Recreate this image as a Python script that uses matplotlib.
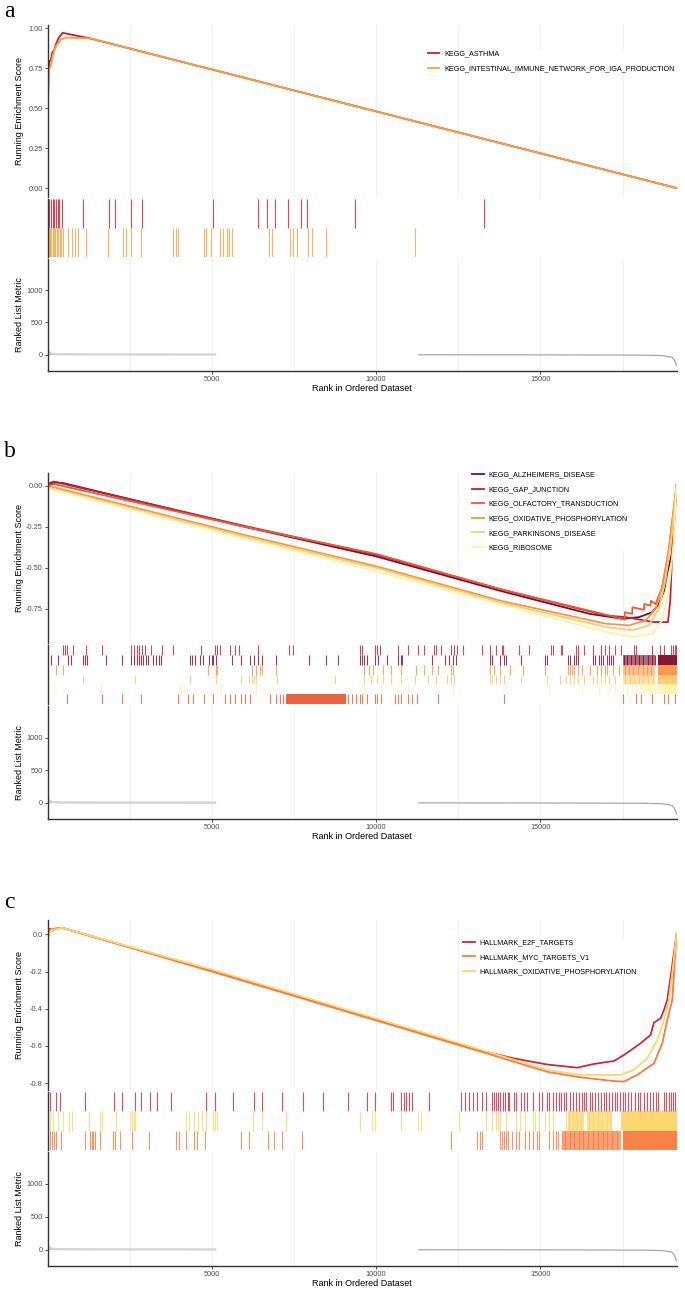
import numpy as np
import matplotlib.pyplot as plt
from matplotlib.lines import Line2D

plt.rcParams['font.family'] = ['Liberation Sans', 'DejaVu Sans']
plt.rcParams['axes.unicode_minus'] = False

# ---------------- data ----------------
# ranked list metric (same ranking for every panel)
metric_left_rank = [1, 20, 60, 150, 400, 1500, 5100]
metric_left_val = [120, 60, 25, 12, 6, 3, 2]
metric_right_rank = [11300, 15000, 18000, 18700, 19000, 19080, 19140]
metric_right_val = [-2, -4, -8, -15, -40, -90, -170]

# panel a
a_names = ['KEGG_ASTHMA', 'KEGG_INTESTINAL_IMMUNE_NETWORK_FOR_IGA_PRODUCTION']
a_colors = ['#D0182F', '#F9A03E']
asthma_rank = [1, 10, 30, 60, 100, 150, 200, 260, 320, 380, 460, 1300, 19140]
asthma_es = [0.0, 0.45, 0.74, 0.79, 0.80, 0.85, 0.86, 0.90, 0.93, 0.95, 0.97, 0.935, 0.0]
iga_rank = [1, 15, 40, 100, 150, 220, 300, 420, 600, 1300, 19140]
iga_es = [0.0, 0.55, 0.74, 0.76, 0.82, 0.87, 0.90, 0.93, 0.94, 0.935, 0.0]
asthma_hits = [6, 57, 108, 159, 210, 260, 311, 362, 443, 1091, 1873, 2056, 2534, 2869,
               5031, 6412, 6686, 6930, 7326, 7722, 7905, 9366, 13296]
iga_hits = [6, 40, 80, 120, 160, 200, 240, 290, 330, 380, 420, 470, 634, 737, 838, 920,
            1173, 1852, 2309, 2391, 2534, 2857, 3832, 3905, 3985, 4767, 4828, 4980, 5255,
            5355, 5458, 5538, 5620, 6726, 6829, 7366, 7469, 7591, 7914, 8047, 8483, 11194]

# panel b
b_names = ['KEGG_ALZHEIMERS_DISEASE', 'KEGG_GAP_JUNCTION', 'KEGG_OLFACTORY_TRANSDUCTION',
           'KEGG_OXIDATIVE_PHOSPHORYLATION', 'KEGG_PARKINSONS_DISEASE', 'KEGG_RIBOSOME']
b_colors = ['#7F0A2A', '#C41E3A', '#EC5A35', '#FA9441', '#FEC96A', '#FFF2A6']
alz_rank = [1, 60, 150, 300, 500, 6000, 10000, 13782, 16500, 17500, 18000, 18400, 18600,
            18760, 18860, 19013, 19080, 19140]
alz_es = [0.0, 0.01, 0.015, 0.02, 0.015, -0.25, -0.43, -0.64, -0.78, -0.81, -0.80, -0.77,
          -0.72, -0.64, -0.53, -0.40, -0.2, 0.0]
gap_rank = [1, 100, 200, 400, 6000, 10000, 13782, 17000, 17600, 18450, 18880, 18950, 19020, 19140]
gap_es = [0.0, 0.02, 0.025, 0.015, -0.245, -0.42, -0.63, -0.79, -0.80, -0.83, -0.83, -0.70,
          -0.35, 0.0]
olf_rank = [1, 200, 6000, 10000, 13782, 17300, 17560, 17570, 17790, 17800, 18150, 18160,
            18350, 18360, 18500, 18700, 18900, 19140]
olf_es = [0.0, 0.01, -0.25, -0.415, -0.63, -0.80, -0.815, -0.77, -0.78, -0.74, -0.755,
          -0.72, -0.73, -0.70, -0.72, -0.62, -0.40, 0.0]
oxb_rank = [1, 6000, 10000, 13782, 17000, 17700, 18200, 18500, 18700, 18900, 19050, 19140]
oxb_es = [0.0, -0.30, -0.49, -0.70, -0.84, -0.85, -0.82, -0.75, -0.62, -0.40, -0.15, 0.0]
park_rank = [1, 6000, 10000, 13782, 17000, 17800, 18300, 18600, 18800, 19000, 19140]
park_es = [-0.01, -0.31, -0.50, -0.71, -0.86, -0.88, -0.85, -0.75, -0.58, -0.30, 0.0]
ribo_rank = [1, 6000, 10000, 13782, 17000, 17800, 18400, 18700, 18900, 19050, 19140]
ribo_es = [-0.015, -0.32, -0.52, -0.72, -0.89, -0.92, -0.90, -0.82, -0.65, -0.35, 0.0]

gap_hits = [459, 521, 584, 771, 1171, 1646, 2546, 2621, 2709, 2796, 2871, 2959, 3146, 3496,
            3834, 4671, 5084, 5171, 5246, 5546, 5709, 5834, 6396, 7334, 7484, 9521, 9584,
            9959, 10021, 10121, 10671, 10959, 11271, 11459, 11746, 11834, 11959, 12271,
            12371, 12459, 12646, 13209, 13459, 13646, 13834, 13871, 14334, 14646, 15334,
            15396, 15621, 15671, 16084, 16146, 16334, 16584, 16834, 16959, 17084, 17271,
            17459, 17834, 17896, 18396, 18646, 18771, 18959, 19021, 19084, 19120]
alz_hits = [121, 334, 621, 709, 1084, 1146, 1209, 1771, 2271, 2546, 2621, 2709, 2771, 2834,
            2896, 2996, 3046, 3209, 3309, 3396, 3459, 4334, 4396, 4496, 4646, 4746, 4921,
            4996, 5046, 5121, 5621, 5896, 6171, 6271, 6396, 6521, 6959, 7959, 8484, 8834,
            9496, 9584, 9646, 9709, 9959, 10046, 10334, 10671, 10746, 10796, 11709, 12084,
            12209, 12334, 12421, 13459, 13521, 13771, 13896, 13959, 14396, 15146, 15209,
            15834, 15896, 16021, 16084, 16146, 16584, 16646, 16771, 16834, 16896, 17021,
            17084, 17146, 17209, 17530, 17640, 17760, 17890, 18010, 18130, 18260, 18390,
            18480]
alz_spans = [(17500, 18500, 0.6), (18580, 19140, 0.95)]
oxb_hits = [271, 484, 4896, 5121, 5171, 6209, 6334, 6459, 6521, 6959, 9646, 9771, 9896,
            10209, 10459, 10771, 11209, 11459, 11709, 11896, 12271, 12334, 13459, 13584,
            13771, 14084, 14459, 15146, 15834, 15896, 15959, 16021, 16146, 16271, 16521,
            16709, 16834, 16959, 17021, 17209, 17396, 17560, 17700, 17830, 17960, 18110,
            18240, 18370]
oxb_spans = [(17500, 18500, 0.55), (18580, 19140, 0.95)]
park_hits = [1084, 2671, 4334, 5121, 5896, 6146, 6209, 6271, 6334, 6996, 8746, 9646, 9834,
             10021, 10209, 10459, 10771, 11171, 11584, 11834, 12146, 12271, 12371, 13459,
             13521, 13646, 13771, 13896, 14396, 15209, 15584, 15771, 15896, 16021, 16146,
             16334, 16584, 16709, 16834, 16959, 17084, 17271, 17580, 17720, 17850, 17990,
             18120, 18280, 18410]
park_spans = [(17500, 18500, 0.55), (18580, 19140, 0.95)]
ribo_hits = [209, 1621, 4021, 4146, 5146, 5271, 6334, 9646, 10146, 10521, 10959, 12334,
             15271, 16271, 16771, 17084, 17271, 17521, 17646, 17771, 17896, 18021]
ribo_spans = [(18080, 18770, 0.6), (18770, 19140, 0.95)]
olf_hits = [584, 1646, 2271, 2859, 3984, 4271, 4421, 4771, 5021, 5396, 5546, 5709, 5896,
            6021, 6171, 6771, 6959, 7084, 7180, 9146, 9271, 9396, 9496, 9584, 9709, 9959,
            10021, 10146, 10584, 10671, 10771, 10959, 11084, 11246, 11871, 13896, 17521,
            17896, 18046, 18396, 18746, 18896, 19084]
olf_spans = [(7270, 9090, 0.95)]

# panel c
c_names = ['HALLMARK_E2F_TARGETS', 'HALLMARK_MYC_TARGETS_V1',
           'HALLMARK_OXIDATIVE_PHOSPHORYLATION']
c_colors = ['#CC2640', '#FA7A3E', '#FED667']
e2f_rank = [1, 75, 150, 250, 440, 5000, 13174, 14189, 15206, 16120, 16627, 17236, 17540,
            18048, 18352, 18453, 18657, 18758, 18859, 19000, 19140]
e2f_es = [0.0, 0.03, 0.02, 0.03, 0.035, -0.195, -0.625, -0.667, -0.70, -0.717, -0.697,
          -0.681, -0.649, -0.586, -0.541, -0.475, -0.452, -0.407, -0.353, -0.18, 0.0]
myc_rank = [1, 40, 100, 200, 440, 5000, 13174, 15206, 16220, 17236, 17540, 17946, 18453,
            18707, 18859, 19012, 19140]
myc_es = [0.0, 0.02, 0.025, 0.03, 0.035, -0.20, -0.63, -0.739, -0.769, -0.789, -0.792,
          -0.756, -0.694, -0.586, -0.461, -0.353, 0.0]
oxc_rank = [1, 40, 100, 200, 440, 5000, 13174, 15206, 16220, 17438, 17844, 18251, 18556,
            18758, 18910, 19050, 19140]
oxc_es = [0.0, -0.01, 0.02, 0.025, 0.035, -0.19, -0.62, -0.729, -0.756, -0.756, -0.729,
          -0.667, -0.568, -0.461, -0.353, -0.15, 0.0]
e2f_hits = [84, 271, 371, 1146, 2021, 2271, 2671, 2834, 3121, 3334, 3746, 4834, 5084, 5646,
            6271, 6521, 7146, 7771, 8371, 9146, 9709, 9959, 10459, 10521, 10746, 10834,
            10921, 10996, 11084, 11621, 12584, 12709, 12834, 12959, 13084, 13209, 13334,
            13520, 13590, 13650, 13710, 13770, 13870, 13920, 14000, 14050, 14210, 14270,
            14400, 14500, 14580, 14770, 14960, 15050, 15210, 15270, 15370, 15460, 15550,
            15620, 15710, 15770, 15900, 16000, 16080, 16170, 16270, 16330, 16400, 16500,
            16580, 16670, 16750, 16830, 16920, 17000, 17080, 17170, 17270, 17330, 17420,
            17520, 17580, 17670, 17770, 17870, 17960, 18040, 18140, 18240, 18330, 18420,
            18520, 18580, 18770, 18830, 18900, 18960, 19020, 19080]
e2f_spans = []
oxc_hits = [84, 171, 334, 459, 646, 746, 1271, 1584, 1646, 2084, 2521, 2584, 2621, 2671,
            4209, 4296, 4459, 4584, 4709, 4834, 5021, 5084, 5171, 6246, 6521, 7246, 9521,
            9871, 9959, 10746, 11271, 11371, 12521, 13334, 13521, 13646, 13709, 13771,
            13959, 14271, 14371, 14521, 14771, 14834, 14959, 15146, 15271, 15396, 15771,
            15880, 15990, 16120, 16240, 16480, 16610, 16750, 16880, 17010, 17130]
oxc_spans = [(15830, 16320, 0.75), (16420, 17190, 0.75), (17440, 19140, 0.95)]
myc_hits = [84, 146, 209, 271, 421, 1146, 1296, 1346, 1396, 1459, 1584, 1996, 2046, 2209,
            2584, 3084, 3896, 3996, 4209, 4459, 4546, 4796, 5896, 6146, 6709, 6896, 7121,
            7746, 12271, 13084, 13146, 13209, 13771, 13834, 13896, 13959, 14021, 14146,
            14271, 14334, 14521, 14646, 14771, 14896, 14959, 15271, 15396, 15459, 15521,
            15646, 15760, 15890, 16030, 16170, 16300, 16450, 16600, 16740, 16890, 17040,
            17190, 17330]
myc_spans = [(15700, 17450, 0.7), (17520, 19140, 0.95)]

# ---------------- layout ----------------
W, H = 685, 1290
L, R = 47.5, 676.5
XMAX = 19140

fig = plt.figure(figsize=(W / 100, H / 100), dpi=100)


def box(top, bottom):
    return [L / W, 1 - bottom / H, (R - L) / W, (bottom - top) / H]


def style_left(ax):
    for s in ['top', 'right', 'bottom']:
        ax.spines[s].set_visible(False)
    ax.spines['left'].set_color('#333333')
    ax.spines['left'].set_linewidth(1.0)
    ax.tick_params(axis='y', length=2.2, width=0.6, color='#333333', pad=1.2,
                   labelsize=5.3, labelcolor='#4D4D4D')
    ax.set_xlim(0, XMAX)


def vgrid(ax):
    for x in range(2500, 19000, 2500):
        ax.axvline(x, color='#EBEBEB', lw=0.5, zorder=0)


def draw_panel(letter, letter_base, top, es_bot, rug_bot, rank_bot, names, colors,
               curves, rows, es_lim, es_ticks, es_labels, leg_x, leg_top):
    fig.text(4 / W, 1 - letter_base / H, letter, family='Liberation Serif', fontsize=17,
             va='baseline', ha='left')

    es_ax = fig.add_axes(box(top, es_bot))
    style_left(es_ax)
    es_ax.set_xticks([])
    vgrid(es_ax)
    for (rk, es), c in zip(curves, colors):
        es_ax.plot(rk, es, color=c, lw=1.3)
    es_ax.set_ylim(*es_lim)
    es_ax.set_yticks(es_ticks)
    es_ax.set_yticklabels(es_labels)
    es_ax.set_ylabel('Running Enrichment Score', fontsize=6.5)
    es_ax.yaxis.set_label_coords((20 - L) / (R - L), 0.5)
    es_ax.yaxis.label.set_va('center')

    handles = [Line2D([0], [0], color=c, lw=1.3) for c in colors]
    fig.legend(handles, names, loc='upper left',
               bbox_to_anchor=(leg_x / W, 1 - leg_top / H), fontsize=5.25,
               frameon=True, facecolor='white', edgecolor='none', framealpha=1,
               borderpad=0.0, handlelength=1.55, handletextpad=0.7, labelspacing=1.02,
               borderaxespad=0)

    rug_ax = fig.add_axes(box(es_bot + 2, rug_bot))
    style_left(rug_ax)
    rug_ax.set_xticks([])
    rug_ax.set_yticks([])
    n = len(rows)
    for i, (hits, spans, c) in enumerate(rows):
        y0 = n - 1 - i
        rug_ax.vlines(hits, y0, y0 + 1, color=c, lw=0.8, alpha=0.8)
        for s0, s1, al in spans:
            rug_ax.broken_barh([(s0, s1 - s0)], (y0, 1), color=c, alpha=al, lw=0)
    rug_ax.set_ylim(0, n)

    rk_ax = fig.add_axes(box(rug_bot + 2, rank_bot))
    style_left(rk_ax)
    rk_ax.spines['bottom'].set_visible(True)
    rk_ax.spines['bottom'].set_color('#333333')
    rk_ax.spines['bottom'].set_linewidth(1.0)
    vgrid(rk_ax)
    rk_ax.plot(metric_left_rank, metric_left_val, color='#D3D3D3', lw=1.6)
    rk_ax.fill_between(metric_left_rank, 0, metric_left_val, color='#BEBEBE', lw=0)
    rk_ax.plot(metric_right_rank, metric_right_val, color='#A8A8A8', lw=0.9)
    rk_ax.set_ylim(-250, 1485)
    rk_ax.set_yticks([0, 500, 1000])
    rk_ax.set_xticks([5000, 10000, 15000])
    rk_ax.tick_params(axis='x', length=2.2, width=0.6, color='#333333', pad=1.5,
                      labelsize=5.3, labelcolor='#4D4D4D')
    rk_ax.set_ylabel('Ranked List Metric', fontsize=6.5)
    rk_ax.yaxis.set_label_coords((20 - L) / (R - L), 0.5)
    rk_ax.yaxis.label.set_va('center')
    rk_ax.set_xlabel('Rank in Ordered Dataset', fontsize=6.5)
    h = rank_bot - rug_bot - 2
    rk_ax.xaxis.set_label_coords(0.5, -17.5 / h)
    rk_ax.xaxis.label.set_va('center')


draw_panel('a', 17, 25, 197, 257, 370.7, a_names, a_colors,
           [(asthma_rank, asthma_es), (iga_rank, iga_es)],
           [(asthma_hits, [], a_colors[0]), (iga_hits, [], a_colors[1])],
           (-0.056, 1.019), [0, 0.25, 0.5, 0.75, 1.0],
           ['0.00', '0.25', '0.50', '0.75', '1.00'], 427.7, 50.5)

draw_panel('b', 457, 473.3, 643.3, 704, 819, b_names, b_colors,
           [(alz_rank, alz_es), (gap_rank, gap_es), (olf_rank, olf_es),
            (oxb_rank, oxb_es), (park_rank, park_es), (ribo_rank, ribo_es)],
           [(gap_hits, [], b_colors[1]), (alz_hits, alz_spans, b_colors[0]),
            (oxb_hits, oxb_spans, b_colors[3]), (park_hits, park_spans, b_colors[4]),
            (ribo_hits, ribo_spans, b_colors[5]), (olf_hits, olf_spans, b_colors[2])],
           (-0.959, 0.0756), [0, -0.25, -0.5, -0.75],
           ['0.00', '-0.25', '-0.50', '-0.75'], 472.3, 471.5)

draw_panel('c', 908.5, 920, 1090, 1150, 1266, c_names, c_colors,
           [(e2f_rank, e2f_es), (myc_rank, myc_es), (oxc_rank, oxc_es)],
           [(e2f_hits, e2f_spans, c_colors[0]), (oxc_hits, oxc_spans, c_colors[2]),
            (myc_hits, myc_spans, c_colors[1])],
           (-0.837, 0.0769), [0, -0.2, -0.4, -0.6, -0.8],
           ['0.0', '-0.2', '-0.4', '-0.6', '-0.8'], 463.3, 939.3)

fig.savefig('out.png', dpi=100)
